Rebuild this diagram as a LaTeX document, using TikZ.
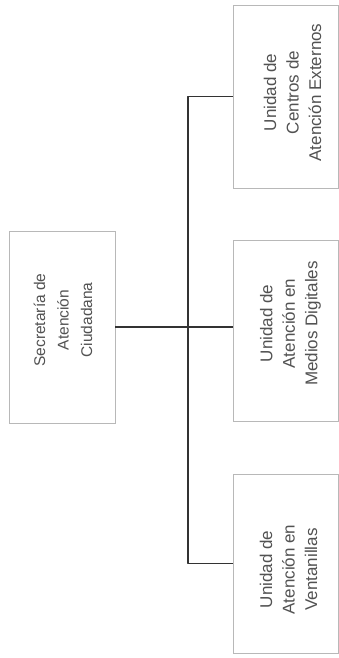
\documentclass[tikz,border=0pt]{standalone}
\usepackage{fontspec}
\setmainfont{Liberation Sans}
\begin{document}
\begin{tikzpicture}[x=1pt,y=1pt,
  unitbox/.style={draw=black!28, line width=0.9pt, fill=white, inner sep=0pt},
  boxtext/.style={rotate=90, align=center, text=black!68, inner sep=0pt,
    font=\fontsize{17}{22.5}\selectfont},
  headtext/.style={boxtext, font=\fontsize{15.5}{23.5}\selectfont},
  conn/.style={draw=black!80, line width=1.8pt, line join=round}]
\useasboundingbox (0,0) rectangle (339,658);
\fill[white] (0,0) rectangle (339,658);

% boxes
\node[unitbox, minimum width=106pt, minimum height=192pt] (sec) at (62,331) {};
\node[unitbox, minimum width=105pt, minimum height=183pt] (ext) at (285.5,561.5) {};
\node[unitbox, minimum width=105pt, minimum height=181pt] (dig) at (285.5,327.5) {};
\node[unitbox, minimum width=105pt, minimum height=179pt] (ven) at (285.5,94.5) {};

% labels
\node[headtext] (sectxt) at ([shift={(1,7)}]sec.center) {Secretaría de\\Atención\\Ciudadana};
\node[boxtext] (exttxt) at ([shift={(7,4)}]ext.center) {Unidad de\\Centros de\\Atención Externos};
\node[boxtext] (digtxt) at ([shift={(5,7)}]dig.center) {Unidad de\\Atención en\\Medios Digitales};
\node[boxtext] (ventxt) at ([shift={(3,-6)}]ven.center) {Unidad de\\Atención en\\Ventanillas};

% connectors
\coordinate (bus) at (188,0);
\draw[conn] (ext.west) -| (bus |- ven.west) -- (ven.west);
\draw[conn] (sec.east) -- (sec.east -| dig.west);
\end{tikzpicture}
\end{document}
